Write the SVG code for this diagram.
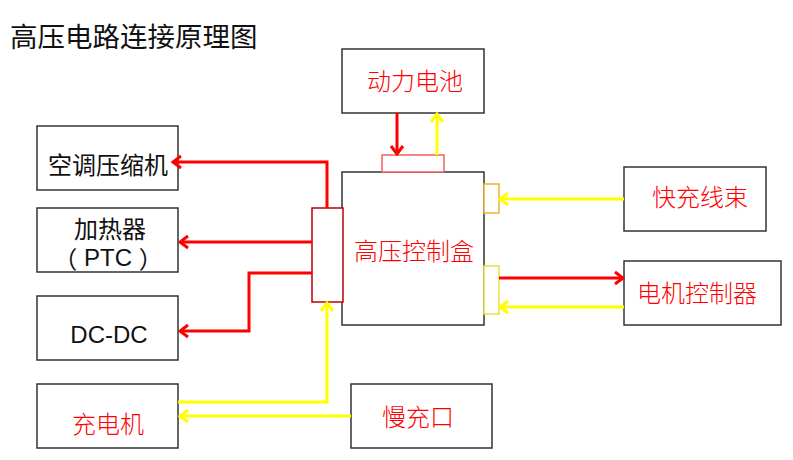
<svg xmlns="http://www.w3.org/2000/svg" width="793" height="460" viewBox="0 0 793 460">
<style>
.box{fill:#fff;stroke:#333;stroke-width:1.5}
.cjk{font-family:"Noto Sans CJK SC","Liberation Sans",sans-serif;font-size:24px;text-anchor:middle;dominant-baseline:central}
.red{fill:#ff0000;font-weight:300}
.blk{fill:#111}
.lr{fill:none;stroke:#ff0000;stroke-width:3}
.ly{fill:none;stroke:#ffff00;stroke-width:3}
</style>
<defs>
<marker id="ar" viewBox="-11 -8 13 16" refX="0" refY="0" markerWidth="13" markerHeight="16" markerUnits="userSpaceOnUse" orient="auto">
<path d="M-8,-6 L0,0 L-8,6" fill="none" stroke="#ff0000" stroke-width="3"/>
</marker>
<marker id="ay" viewBox="-11 -8 13 16" refX="0" refY="0" markerWidth="13" markerHeight="16" markerUnits="userSpaceOnUse" orient="auto">
<path d="M-8,-6 L0,0 L-8,6" fill="none" stroke="#ffff00" stroke-width="3"/>
</marker>
</defs>
<rect width="793" height="460" fill="#fff"/>
<text x="10" y="35" font-family="Noto Sans CJK SC, sans-serif" font-size="27.5" dominant-baseline="central" fill="#111">高压电路连接原理图</text>

<g id="battery"><rect class="box" x="342" y="49" width="142" height="64"/><text class="cjk red" x="415" y="79">动力电池</text></g>
<g id="hv-box"><rect class="box" x="342" y="172" width="142" height="153"/><text class="cjk red" x="414" y="249">高压控制盒</text>
<rect x="382" y="155" width="62" height="17" fill="#fff" stroke="#f06060" stroke-width="1.5"/>
<rect x="312" y="208" width="31" height="94" fill="#fff" stroke="#c00000" stroke-width="1.5"/>
<rect x="484" y="184" width="15" height="29" fill="#fff" stroke="#f0b030" stroke-width="1.5"/>
<rect x="484" y="266" width="15" height="48" fill="#fff" stroke="#e8e040" stroke-width="1.5"/>
</g>
<g id="ac"><rect class="box" x="37" y="126" width="141" height="64"/><text class="cjk blk" x="108" y="163">空调压缩机</text></g>
<g id="ptc"><rect class="box" x="37" y="208" width="141" height="64"/><text class="cjk blk" x="110" y="227">加热器</text><text class="blk" x="108" y="257" font-family="Noto Sans CJK SC, sans-serif" font-size="24" text-anchor="middle" dominant-baseline="central" xml:space="preserve">（<tspan font-family="Liberation Sans, sans-serif"> PTC </tspan>）</text></g>
<g id="dcdc"><rect class="box" x="37" y="296" width="141" height="64"/><text class="blk" x="109" y="334" font-family="Liberation Sans, sans-serif" font-size="24" text-anchor="middle" dominant-baseline="central">DC-DC</text></g>
<g id="charger"><rect class="box" x="37" y="384" width="141" height="64"/><text class="cjk red" x="108" y="422">充电机</text></g>
<g id="slow"><rect class="box" x="351" y="384" width="141" height="64"/><text class="cjk red" x="418" y="415">慢充口</text></g>
<g id="fast"><rect class="box" x="624" y="167" width="142" height="64"/><text class="cjk red" x="700" y="195">快充线束</text></g>
<g id="mcu"><rect class="box" x="624" y="261" width="157" height="64"/><text class="cjk red" x="697" y="291">电机控制器</text></g>

<g id="connectors">
<path class="lr" d="M397,113 V154" marker-end="url(#ar)"/>
<path class="ly" d="M437,155 V114" marker-end="url(#ay)"/>
<path class="lr" d="M327,208 V162 H173" marker-end="url(#ar)"/>
<path class="lr" d="M312,242 H180" marker-end="url(#ar)"/>
<path class="lr" d="M312,273 H249 V331 H180" marker-end="url(#ar)"/>
<path class="ly" d="M178,402 H327 V303" marker-end="url(#ay)"/>
<path class="ly" d="M351,416 H180" marker-end="url(#ay)"/>
<path class="ly" d="M624,199 H500" marker-end="url(#ay)"/>
<path class="lr" d="M499,278 H623" marker-end="url(#ar)"/>
<path class="ly" d="M624,307 H500" marker-end="url(#ay)"/>
</g>
</svg>
